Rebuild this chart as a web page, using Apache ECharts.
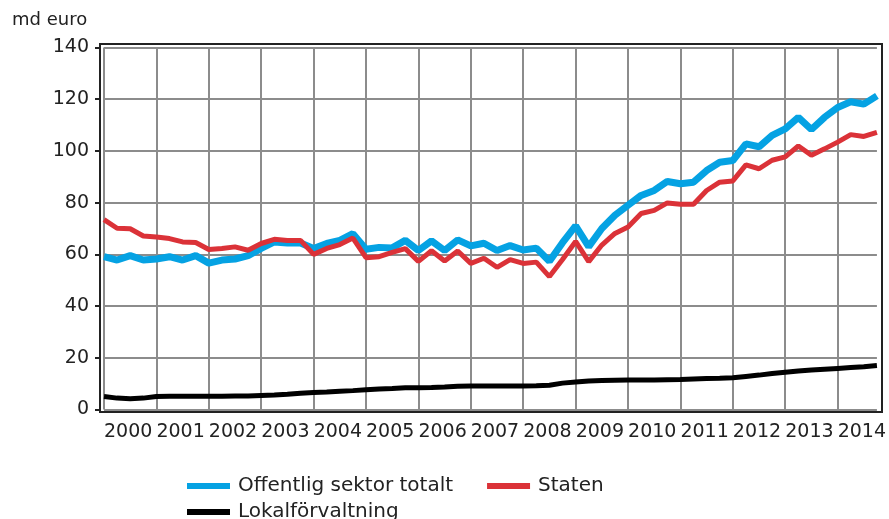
<!DOCTYPE html>
<html>
<head>
<meta charset="utf-8">
<script src="https://cdn.jsdelivr.net/npm/echarts@6/dist/echarts.min.js"></script>
<style>html,body{margin:0;padding:0;background:#fff}#c{width:889px;height:519px}</style>
</head>
<body>
<div id="c"></div>
<script>
const years = ['2000','2001','2002','2003','2004','2005','2006','2007','2008','2009','2010','2011','2012','2013','2014'];
const quarters = [];
years.forEach(y => { for (let q = 1; q <= 4; q++) quarters.push(y + 'Q' + q); });

const offentlig = [59.1,57.8,59.5,57.8,58.2,59.1,57.8,59.5,56.6,57.8,58.2,59.5,62.3,64.8,64.4,64.4,62.3,64.2,65.4,68.0,
  62.0,62.7,62.5,65.4,61.5,65.2,61.5,65.6,63.3,64.3,61.5,63.4,61.7,62.4,57.3,64.5,71.0,63.0,70.0,75.1,
  79.0,82.8,84.7,88.2,87.3,87.9,92.4,95.6,96.3,102.7,101.6,106.0,108.5,113.0,108.3,113.0,116.8,119.0,118.1,121.3];
const staten = [73.4,70.1,69.9,67.1,66.7,66.1,64.8,64.6,61.9,62.3,62.9,61.6,64.2,65.8,65.4,65.4,60.0,62.3,63.8,66.3,
  58.7,59.1,60.8,62.2,57.3,61.4,57.4,61.3,56.5,58.5,55.0,58.0,56.5,57.0,51.4,58.0,65.0,57.2,63.6,68.1,
  70.6,75.8,77.0,79.9,79.4,79.4,84.7,87.9,88.4,94.6,93.1,96.4,97.7,101.9,98.3,100.8,103.4,106.3,105.6,107.2];
const lokal = [5.0,4.4,4.2,4.4,5.0,5.1,5.1,5.1,5.1,5.1,5.2,5.2,5.4,5.6,5.9,6.3,6.6,6.8,7.1,7.3,
  7.6,7.9,8.1,8.4,8.4,8.5,8.7,9.0,9.1,9.1,9.1,9.1,9.1,9.2,9.4,10.2,10.6,11.0,11.2,11.3,
  11.4,11.4,11.4,11.5,11.6,11.8,12.0,12.1,12.3,12.8,13.3,13.9,14.4,14.9,15.3,15.6,15.9,16.2,16.5,17.0];
const yTicks = [0,20,40,60,80,100,120,140];

const FONT = 'DejaVu Sans';
const chart = echarts.init(document.getElementById('c'), null, {renderer: 'canvas'});
chart.setOption({
  animation: false,
  backgroundColor: '#fff',
  grid: {left: 104, right: 9, top: 47.5, bottom: 109.5, containLabel: false},
  xAxis: {
    type: 'category', data: quarters, boundaryGap: false, offset: 3,
    axisLine: {show: false}, axisTick: {show: false},
    axisLabel: {
      interval: (i) => i % 4 === 2,
      formatter: (v) => v.slice(0, 4),
      fontFamily: FONT, fontSize: 19, color: '#222', margin: 10, padding: [0, 4, 0, 0]
    },
    splitLine: {show: true, interval: (i) => i % 4 === 0, lineStyle: {color: '#8c8c8c', width: 2}}
  },
  yAxis: {
    type: 'value', min: yTicks[0], max: yTicks[yTicks.length - 1], interval: 20, offset: 4,
    axisLine: {show: false},
    axisTick: {show: true, length: 5, lineStyle: {color: '#222', width: 2}},
    axisLabel: {fontFamily: FONT, fontSize: 19, color: '#222', margin: 11},
    splitLine: {show: true, lineStyle: {color: '#8c8c8c', width: 2}}
  },
  legend: [
    {
      data: ['Offentlig sektor totalt', 'Staten'], left: 182, top: 471, orient: 'horizontal',
      icon: 'rect', itemWidth: 43, itemHeight: 6, itemGap: 34,
      textStyle: {fontFamily: FONT, fontSize: 20, color: '#222', lineHeight: 20, padding: [0, 0, 0, 3]}
    },
    {
      data: ['Lokalförvaltning'], left: 182, top: 497, orient: 'horizontal',
      icon: 'rect', itemWidth: 43, itemHeight: 6,
      textStyle: {fontFamily: FONT, fontSize: 20, color: '#222', lineHeight: 20, padding: [0, 0, 0, 3]}
    }
  ],
  graphic: [
    {type: 'rect', shape: {x: 100, y: 44, width: 782, height: 368}, style: {fill: 'none', stroke: '#222', lineWidth: 2}, z: 100, silent: true},
    {type: 'text', left: 12, top: 11, style: {text: 'md euro', fontFamily: FONT, fontSize: 18, fill: '#222'}}
  ],
  series: [
    {name: 'Offentlig sektor totalt', type: 'line', data: offentlig, symbol: 'none', color: '#05a2e3', lineStyle: {width: 7, color: '#05a2e3'}, z: 2},
    {name: 'Staten', type: 'line', data: staten, symbol: 'none', color: '#db3238', lineStyle: {width: 5, color: '#db3238'}, z: 3},
    {name: 'Lokalförvaltning', type: 'line', data: lokal, symbol: 'none', color: '#000', lineStyle: {width: 5, color: '#000'}, z: 4}
  ]
});
</script>
</body>
</html>
